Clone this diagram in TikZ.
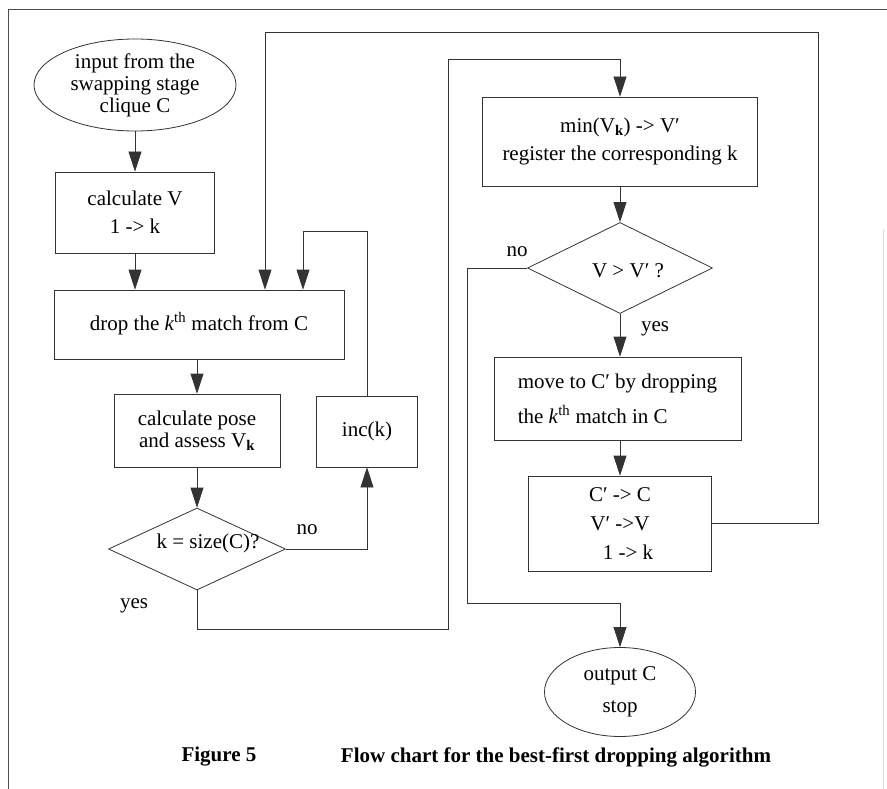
\documentclass[tikz,border=0pt]{standalone}
\usepackage{fontspec}
\setmainfont{Liberation Serif}
\usetikzlibrary{shapes.geometric,arrows.meta}
\begin{document}
\begin{tikzpicture}[x=1pt,y=-1pt,
  every node/.style={font=\fontsize{21}{22}\selectfont},
  ln/.style={draw=black!80,line width=0.8pt},
  arr/.style={ln,-{Triangle[length=20pt,width=13pt]}},
  boxn/.style={ln,rectangle,inner sep=0pt,align=center},
  dia/.style={ln,diamond,inner sep=0pt,align=center},
  ell/.style={ln,ellipse,inner sep=0pt,align=center},
  lab/.style={inner sep=0pt}]
\useasboundingbox (0,0) rectangle (887,789);
% frame
\draw[black!70,line width=0.8pt] (8,789) -- (8,9) -- (887,9);
\draw[black!15,line width=0.6pt] (883,230) -- (883,789);
% nodes
\node[ell,minimum width=202pt,minimum height=92pt] (in) at (135,85) {input from the\\swapping stage\\clique C};
\node[boxn,minimum width=159pt,minimum height=81pt] (calcV) at (135,212.5) {calculate V\\[6pt]1 -> k};
\node[boxn,minimum width=290pt,minimum height=69pt] (drop) at (199,324.5) {\raisebox{6pt}{drop the \textit{k}\textsuperscript{th} match from C}};
\node[boxn,minimum width=166pt,minimum height=73pt] (pose) at (197,430.5) {calculate pose\\and assess V\textsubscript{\textbf{k}}};
\node[boxn,minimum width=101pt,minimum height=71pt] (inc) at (367,431.5) {inc(k)};
\node[dia,minimum width=177pt,minimum height=82pt] (d1) at (197,549) {};
\node[lab] (d1t) at (208,543) {k = size(C)?};
\node[boxn,minimum width=275pt,minimum height=89pt] (min) at (620,141.5) {min(V\textsubscript{\textbf{k}}) -> V′\\[6pt]register the corresponding k};
\node[dia,minimum width=185pt,minimum height=91pt] (d2) at (620,268) {};
\node[lab] (d2t) at (628,271) {V > V′ ?};
\node[boxn,minimum width=247pt,minimum height=83pt,align=left] (move) at (617.5,398.5) {move to C′ by dropping\\[12pt]the \textit{k}\textsuperscript{th} match in C};
\node[boxn,minimum width=183pt,minimum height=95pt] (cc) at (620,523.5) {C′ -> C\\[7pt]V′ ->V\\[7pt]\hspace*{16pt}1 -> k};
\node[ell,minimum width=151pt,minimum height=89pt] (out) at (620,692) {output C\\[10pt]stop};
% labels
\node[lab] (no1) at (307,530) {no};
\node[lab] (yes1) at (134,606) {yes};
\node[lab] (no2) at (517,252) {no};
\node[lab] (yes2) at (655,329) {yes};
\node[lab,font=\bfseries\fontsize{21}{22}\selectfont] (fig) at (219,757) {Figure 5};
\node[lab,font=\bfseries\fontsize{21}{22}\selectfont] (cap) at (556,757) {Flow chart for the best-first dropping algorithm};
% coordinates
\coordinate (r1) at (818,32);
\coordinate (r2) at (265,32);
\coordinate (k1) at (303,231);
\coordinate (yb) at (448,629);
\coordinate (yt) at (448,59);
\coordinate (nb) at (467,603);
% connectors
\draw[arr] (in.south) -- (calcV.north);
\draw[arr] (calcV.south) -- (calcV.south |- drop.north);
\draw[arr] (cc.east) -| (r1) -- (r2) -- (r2 |- drop.north);
\draw[arr] (inc.north) |- (k1) -- (k1 |- drop.north);
\draw[arr] (pose.north |- drop.south) -- (pose.north);
\draw[arr] (pose.south) -- (d1.north);
\draw[arr] (d1.east) -| (inc.south);
\draw[arr] (d1.south) |- (yb) -- (yt) -| (min.north);
\draw[arr] (min.south) -- (d2.north);
\draw[arr] (d2.west) -| (nb) -| (out.north);
\draw[arr] (d2.south) -- (d2.south |- move.north);
\draw[arr] (d2.south |- move.south) -- (cc.north);
\end{tikzpicture}
\end{document}
